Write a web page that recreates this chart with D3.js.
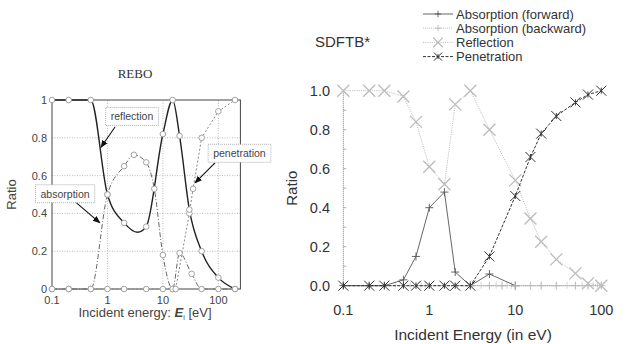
<!DOCTYPE html>
<html>
<head>
<meta charset="utf-8">
<script src="https://cdn.jsdelivr.net/npm/d3@7"></script>
<style>
  body { margin: 0; background: #fff; }
  svg { display: block; font-family: "Liberation Sans", Arial, sans-serif; }
</style>
</head>
<body>
<div id="wrapper"></div>
<script>
// ---- REBO (left panel) data ----
const reboXTicks = [0.1, 1, 10, 100];
const reboYTicks = [0, 0.2, 0.4, 0.6, 0.8, 1];
const reboYTickLabels = ["0", "0.2", "0.4", "0.6", "0.8", "1"];

const reboReflX = [0.1, 0.2, 0.5, 1, 2, 3.5, 5, 10, 15, 20, 30, 50, 100, 200];
const reboReflY = [1, 1, 1, 0.5, 0.35, 0.3, 0.33, 0.82, 1, 0.81, 0.42, 0.2, 0.06, 0];

const reboAbsX = [0.1, 0.2, 0.5, 1, 2, 3, 5, 7, 10, 15, 20, 33, 50, 100, 200];
const reboAbsY = [0, 0, 0, 0.5, 0.65, 0.71, 0.67, 0.53, 0.18, 0, 0.19, 0.08, 0, 0, 0];

const reboPenX = [0.1, 0.2, 0.5, 1, 2, 5, 10, 15, 17, 30, 35, 50, 100, 200];
const reboPenY = [0, 0, 0, 0, 0, 0, 0, 0, 0, 0.4, 0.53, 0.8, 0.94, 1];

// annotation labels: [text, box x, box y, arrow from x, y, arrow to x, y] in data units
const reboNotes = [
  ["reflection", 2.77, 0.913, 1.37, 0.857, 0.765, 0.75],
  ["absorption", 0.172, 0.504, 0.26, 0.462, 0.73, 0.35],
  ["penetration", 240, 0.718, 87, 0.667, 37.9, 0.561]
];

// ---- SDFTB* (right panel) data ----
const dftXTicks = [0.1, 1, 10, 100];
const dftXTickLabels = ["0.1", "1", "10", "100"];
const dftYTicks = [0, 0.2, 0.4, 0.6, 0.8, 1.0];

const absFwdX = [0.1, 0.2, 0.3, 0.5, 0.7, 1, 1.5, 2, 3, 5, 10];
const absFwdY = [0, 0, 0, 0.03, 0.15, 0.40, 0.48, 0.07, 0, 0.06, 0];

const absBwdX = [3, 5, 7, 10, 15, 20, 30, 50, 70, 100];
const absBwdY = [0, 0, 0, 0, 0, 0, 0, 0, 0, 0];

const reflX = [0.1, 0.2, 0.3, 0.5, 0.7, 1, 1.5, 2, 3, 5, 10, 15, 20, 30, 50, 70, 100];
const reflY = [1, 1, 1, 0.97, 0.84, 0.61, 0.52, 0.93, 1.0, 0.80, 0.54, 0.345, 0.225, 0.135, 0.063, 0.012, 0];

const penX = [0.1, 0.2, 0.3, 0.5, 0.7, 1, 1.5, 2, 3, 5, 10, 15, 20, 30, 50, 70, 100];
const penY = [0, 0, 0, 0, 0, 0, 0, 0, 0, 0.15, 0.46, 0.66, 0.78, 0.87, 0.94, 0.98, 1.0];

const dark = "#333", light = "#bbb";

const svg = d3.select("#wrapper").append("svg")
  .attr("width", 630)
  .attr("height", 344);

function zip(xs, ys) { return xs.map(function (x, i) { return [x, ys[i]]; }); }

// ================= left panel =================
const xL = d3.scaleLog().domain([0.1, 250]).range([52, 240.4]);
const yL = d3.scaleLinear().domain([0, 1]).range([289, 100]);

const left = svg.append("g");

// dotted grid
left.selectAll(".vgrid").data([1, 10, 100]).enter().append("line")
  .attr("x1", d => xL(d)).attr("x2", d => xL(d))
  .attr("y1", yL(0)).attr("y2", yL(1))
  .attr("stroke", "#aaa").attr("stroke-width", 0.8).attr("stroke-dasharray", "1,1.5");
left.selectAll(".hgrid").data([0.2, 0.4, 0.6, 0.8]).enter().append("line")
  .attr("x1", xL(0.1)).attr("x2", xL(250))
  .attr("y1", d => yL(d)).attr("y2", d => yL(d))
  .attr("stroke", "#aaa").attr("stroke-width", 0.8).attr("stroke-dasharray", "1,1.5");

// frame
left.append("rect")
  .attr("x", xL(0.1)).attr("y", yL(1))
  .attr("width", xL(250) - xL(0.1)).attr("height", yL(0) - yL(1))
  .attr("fill", "none").attr("stroke", "#444").attr("stroke-width", 1);

const lineL = d3.line().x(d => xL(d[0])).y(d => yL(d[1]));

left.append("path").datum(zip(reboPenX, reboPenY))
  .attr("d", lineL).attr("fill", "none")
  .attr("stroke", "#888").attr("stroke-width", 1).attr("stroke-dasharray", "2,2");
left.append("path").datum(zip(reboAbsX, reboAbsY))
  .attr("d", lineL.curve(d3.curveMonotoneX)).attr("fill", "none")
  .attr("stroke", "#666").attr("stroke-width", 1).attr("stroke-dasharray", "5,2,1,2");
left.append("path").datum(zip(reboReflX, reboReflY))
  .attr("d", lineL.curve(d3.curveMonotoneX)).attr("fill", "none")
  .attr("stroke", "#222").attr("stroke-width", 1.4);

// markers (skip the helper point at the reflection minimum)
const reboMarks = zip(reboAbsX, reboAbsY).concat(zip(reboPenX, reboPenY))
  .concat(zip(reboReflX, reboReflY).filter(d => d[0] !== 3.5));
left.selectAll(".mk").data(reboMarks).enter().append("circle")
  .attr("cx", d => xL(d[0])).attr("cy", d => yL(d[1]))
  .attr("r", 2.8).attr("fill", "#fff").attr("stroke", "#999").attr("stroke-width", 0.9);

// tick labels
left.selectAll(".xl").data(reboXTicks).enter().append("text")
  .attr("x", d => xL(d)).attr("y", 304)
  .attr("text-anchor", "middle").attr("font-size", 11).attr("fill", "#444")
  .text(d => d);
left.selectAll(".yl").data(reboYTicks).enter().append("text")
  .attr("x", 47).attr("y", d => yL(d) + 4)
  .attr("text-anchor", "end").attr("font-size", 11).attr("fill", "#444")
  .text((d, i) => reboYTickLabels[i]);

// axis titles
left.append("text")
  .attr("transform", "translate(16," + yL(0.5) + ") rotate(-90)")
  .attr("text-anchor", "middle").attr("font-size", 13).attr("fill", "#444")
  .text("Ratio");
const xt = left.append("text")
  .attr("x", 145).attr("y", 317)
  .attr("text-anchor", "middle").attr("font-size", 13).attr("fill", "#444");
xt.append("tspan").text("Incident energy: ");
xt.append("tspan").attr("font-weight", "bold").attr("font-style", "italic").text("E");
xt.append("tspan").attr("font-size", 7).attr("dy", 3).text("i");
xt.append("tspan").attr("dy", -3).text(" [eV]");

left.append("text")
  .attr("x", 135).attr("y", 78)
  .attr("text-anchor", "middle").attr("font-size", 13)
  .attr("font-family", "Liberation Serif, serif").attr("fill", "#333")
  .text("REBO");

// annotation boxes with arrows
svg.append("defs").append("marker")
  .attr("id", "arr").attr("viewBox", "0 0 10 10")
  .attr("refX", 9).attr("refY", 5)
  .attr("markerWidth", 7).attr("markerHeight", 7)
  .attr("orient", "auto")
  .append("path").attr("d", "M0,1L10,5L0,9Z").attr("fill", "#111");

reboNotes.forEach(function (n) {
  left.append("line")
    .attr("x1", xL(n[3])).attr("y1", yL(n[4]))
    .attr("x2", xL(n[5])).attr("y2", yL(n[6]))
    .attr("stroke", "#111").attr("stroke-width", 1.1)
    .attr("marker-end", "url(#arr)");
  const t = left.append("text")
    .attr("x", xL(n[1])).attr("y", yL(n[2]) + 4)
    .attr("text-anchor", "middle").attr("font-size", 10.5).attr("fill", "#444")
    .text(n[0]);
  const bb = t.node().getBBox();
  left.insert("rect", function () { return t.node(); })
    .attr("x", bb.x - 5).attr("y", bb.y - 3)
    .attr("width", bb.width + 10).attr("height", bb.height + 6)
    .attr("fill", "#fff").attr("stroke", "#999").attr("stroke-width", 0.8)
    .attr("stroke-dasharray", "1,1");
});

// ================= right panel =================
const xR = d3.scaleLog().domain([0.1, 100]).range([343.3, 601.3]);
const yR = d3.scaleLinear().domain([0, 1]).range([285.7, 90.7]);

const right = svg.append("g");

// axes: dotted lines with light minor ticks
right.append("line")
  .attr("x1", xR(0.1)).attr("x2", xR(0.1))
  .attr("y1", yR(0)).attr("y2", yR(1))
  .attr("stroke", "#555").attr("stroke-width", 0.8).attr("stroke-dasharray", "1,1");
right.append("line")
  .attr("x1", xR(0.1)).attr("x2", xR(100))
  .attr("y1", yR(0)).attr("y2", yR(0))
  .attr("stroke", "#555").attr("stroke-width", 0.8).attr("stroke-dasharray", "1,1");
right.selectAll(".ymin").data(d3.range(1, 10).map(d => d / 10)).enter().append("line")
  .attr("x1", xR(0.1)).attr("x2", xR(0.1) + 3)
  .attr("y1", d => yR(d)).attr("y2", d => yR(d))
  .attr("stroke", "#999").attr("stroke-width", 0.8);
right.selectAll(".xmin").data(xR.ticks()).enter().append("line")
  .attr("x1", d => xR(d)).attr("x2", d => xR(d))
  .attr("y1", yR(0) + 3).attr("y2", yR(0) - 4)
  .attr("stroke", "#ccc").attr("stroke-width", 0.8);

right.selectAll(".xl").data(dftXTicks).enter().append("text")
  .attr("x", d => xR(d)).attr("y", 315)
  .attr("text-anchor", "middle").attr("font-size", 14.5).attr("fill", "#333")
  .text((d, i) => dftXTickLabels[i]);
right.selectAll(".yl").data(dftYTicks).enter().append("text")
  .attr("x", 330).attr("y", d => yR(d) + 5)
  .attr("text-anchor", "end").attr("font-size", 14.5).attr("fill", "#333")
  .text(d => d.toFixed(1));

right.append("text")
  .attr("transform", "translate(297," + yR(0.5) + ") rotate(-90)")
  .attr("text-anchor", "middle").attr("font-size", 15).attr("fill", "#333")
  .text("Ratio");
right.append("text")
  .attr("x", 473).attr("y", 340)
  .attr("text-anchor", "middle").attr("font-size", 15.5).attr("fill", "#333")
  .text("Incident Energy (in eV)");
right.append("text")
  .attr("x", 315).attr("y", 47)
  .attr("font-size", 15).attr("fill", "#333")
  .text("SDFTB*");

const lineR = d3.line().x(d => xR(d[0])).y(d => yR(d[1]));

// marker shapes
function plus(g, x, y, s, col, w) {
  g.append("path")
    .attr("d", "M" + (x - s) + "," + y + "H" + (x + s) + "M" + x + "," + (y - s) + "V" + (y + s))
    .attr("stroke", col).attr("stroke-width", w).attr("fill", "none");
}
function cross(g, x, y, s, col, w) {
  g.append("path")
    .attr("d", "M" + (x - s) + "," + (y - s) + "L" + (x + s) + "," + (y + s) +
      "M" + (x - s) + "," + (y + s) + "L" + (x + s) + "," + (y - s))
    .attr("stroke", col).attr("stroke-width", w).attr("fill", "none");
}
function star(g, x, y, s, col, w) {
  cross(g, x, y, s, col, w);
  g.append("path")
    .attr("d", "M" + x + "," + (y - s * 0.6) + "V" + (y + s * 0.6))
    .attr("stroke", col).attr("stroke-width", w);
}

const series = [
  { name: "Absorption (forward)", x: absFwdX, y: absFwdY, col: "#555", dash: null, w: 0.9, mark: plus, ms: 4, mw: 0.9 },
  { name: "Absorption (backward)", x: absBwdX, y: absBwdY, col: light, dash: "1,1", w: 0.9, mark: plus, ms: 4, mw: 0.9 },
  { name: "Reflection", x: reflX, y: reflY, col: light, dash: "1,1.2", w: 1, mark: cross, ms: 6, mw: 1.3 },
  { name: "Penetration", x: penX, y: penY, col: dark, dash: "3,1.5", w: 1, mark: star, ms: 5, mw: 1 }
];

series.forEach(function (s) {
  const pts = zip(s.x, s.y);
  right.append("path").datum(pts)
    .attr("d", lineR).attr("fill", "none")
    .attr("stroke", s.col).attr("stroke-width", s.w)
    .attr("stroke-dasharray", s.dash);
  const mg = right.append("g");
  pts.forEach(function (p) { s.mark(mg, xR(p[0]), yR(p[1]), s.ms, s.col, s.mw); });
});

// legend
const leg = svg.append("g");
series.forEach(function (s, i) {
  const ly = 14 + i * 14.2;
  leg.append("line")
    .attr("x1", 423).attr("x2", 453).attr("y1", ly).attr("y2", ly)
    .attr("stroke", s.col).attr("stroke-width", s.w).attr("stroke-dasharray", s.dash);
  s.mark(leg, 438, ly, s.ms * 0.8, s.col, s.mw);
  leg.append("text")
    .attr("x", 456).attr("y", ly + 4.5)
    .attr("font-size", 13).attr("fill", "#333")
    .text(s.name);
});
</script>
</body>
</html>
